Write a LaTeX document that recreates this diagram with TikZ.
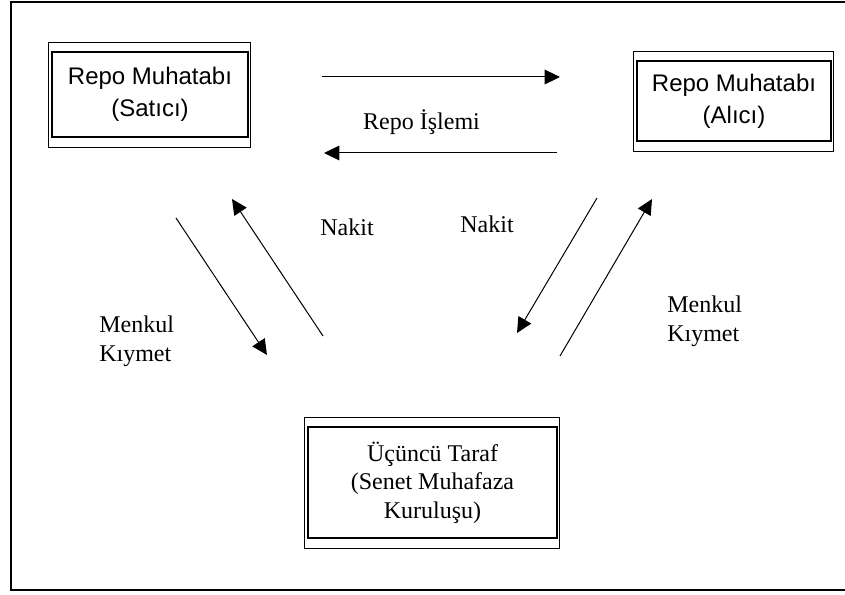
\documentclass[tikz,border=0pt]{standalone}
\usepackage{fontspec}
\setmainfont{Liberation Serif}
\setsansfont{Liberation Sans}
\usetikzlibrary{positioning,arrows.meta,calc}
\tikzset{
  partybox/.style={draw, line width=1.1pt, align=center, inner sep=0pt, outer sep=0pt,
    font=\sffamily\fontsize{18}{24}\selectfont},
  thirdbox/.style={partybox, font=\rmfamily\fontsize{18}{21.5}\selectfont},
  flowarrow/.style={-{Triangle[length=11.5pt,width=11pt]}, line width=0.75pt},
  flowlabel/.style={font=\fontsize{18}{22}\selectfont, inner sep=0pt}
}

\begin{document}
\begin{tikzpicture}[x=0.75pt,y=-0.75pt]
\useasboundingbox (0,0) rectangle (845,595);
% frame (right side runs off the page)
\draw[line width=1.5pt] (845,2) -- (11,2) -- (11,590) -- (845,590);

% parties
\node[partybox, minimum width=147pt, minimum height=63.75pt] (satici) at (150,94.5) {Repo Muhatabı\\(Satıcı)};
\node[partybox, minimum width=145.5pt, minimum height=60pt] (alici) at (734,101) {Repo Muhatabı\\(Alıcı)};
\node[thirdbox, minimum width=186.75pt, minimum height=83.25pt] (ucuncu) at (432.5,482.5) {Üçüncü Taraf\\(Senet Muhafaza\\Kuruluşu)};
\foreach \n in {satici,alici,ucuncu}
  \draw[line width=0.6pt] ($(\n.south west)+(-4,10)$) rectangle ($(\n.north east)+(2,-10)$);

% arrow ends
\coordinate (repo1a) at (322,77);  \coordinate (repo1b) at (560,77);
\coordinate (repo2a) at (557,153); \coordinate (repo2b) at (324,153);
\coordinate (mksol1) at (176,218); \coordinate (mksol2) at (267,355);
\coordinate (nksol1) at (323,336); \coordinate (nksol2) at (232,199);
\coordinate (nksag1) at (597,198); \coordinate (nksag2) at (517,333);
\coordinate (mksag1) at (560,356); \coordinate (mksag2) at (652,199);
\foreach \a/\b in {repo1a/repo1b,repo2a/repo2b,mksol1/mksol2,nksol1/nksol2,nksag1/nksag2,mksag1/mksag2}
  \draw[flowarrow] (\a) -- (\b);

% labels
\node[flowlabel, anchor=base] (islem) at (421.5,130) {Repo İşlemi};
\node[flowlabel, anchor=base] (nakitsol) at (347,235) {Nakit};
\node[flowlabel, anchor=base] (nakitsag) at (487,233) {Nakit};
\node[flowlabel, align=left, anchor=west] (menkulsol) at (99,341) {Menkul\\Kıymet};
\node[flowlabel, align=left, anchor=west] (menkulsag) at (667,321) {Menkul\\Kıymet};
\end{tikzpicture}
\end{document}
